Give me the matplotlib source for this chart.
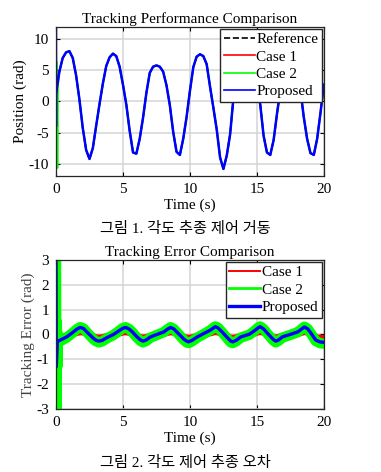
import numpy as np
import matplotlib
matplotlib.use("Agg")
import matplotlib.pyplot as plt
from matplotlib.lines import Line2D

plt.rcParams['font.family'] = ['Liberation Serif', 'Noto Sans CJK KR']
plt.rcParams['axes.unicode_minus'] = False
plt.rcParams['font.size'] = 11

# position curve every 0.25 s
pos_t = np.linspace(0, 20, 81)
pos_ref = [1.2, 4.8, 7.0, 7.9, 8.1, 7.0, 4.2, 0.3, -4.3, -7.8,
           -9.25, -7.5, -3.9, -0.4, 2.9, 5.7, 7.1, 7.7, 7.3, 5.6,
           2.7, -0.5, -4.7, -8.2, -8.4, -6.0, -2.6, 1.4, 4.6, 5.6,
           5.8, 5.6, 4.8, 2.6, -0.6, -4.9, -8.1, -8.6, -6.0, -2.5,
           1.7, 5.5, 7.2, 7.6, 7.3, 6.0, 2.4, -1.0, -4.5, -9.0,
           -10.85, -8.7, -5.3, 0.6, 4.3, 6.7, 7.6, 7.8, 7.2, 5.6,
           3.3, -0.5, -5.5, -8.2, -8.6, -6.2, -2.0, 1.8, 4.3, 5.6,
           6.0, 5.6, 4.3, 1.9, -2.5, -6.0, -8.3, -8.6, -6.0, -1.8,
           2.75]

# start-up transients
pos0_prop_t = [0.0, 0.0]
pos0_prop = [12.0, -4.0]
pos0_case2_t = [0.06, 0.1, 0.14]
pos0_case2 = [6.3, -10.7, 2.5]

# tracking error
err_t = [0.2, 0.8, 1.3, 1.55, 1.8, 2.05, 2.3, 2.8, 3.0, 3.2,
         3.45, 3.8, 4.3, 4.8, 5.0, 5.2, 5.45, 5.7, 6.05, 6.3,
         6.5, 6.75, 7.05, 7.55, 8.05, 8.3, 8.55, 8.8, 9.05, 9.55,
         9.75, 9.9, 10.15, 10.55, 11.05, 11.55, 11.75, 11.9, 12.1, 12.4,
         12.9, 13.05, 13.2, 13.45, 13.8, 14.45, 14.9, 15.1, 15.25, 15.5,
         15.8, 16.2, 16.4, 16.6, 16.9, 17.55, 18.05, 18.3, 18.55, 18.8,
         19.05, 19.4, 19.7, 20.0]
err_prop = [-0.26, -0.1, 0.1, 0.21, 0.28, 0.24, 0.1, -0.16, -0.24, -0.27,
            -0.24, -0.13, 0.0, 0.18, 0.25, 0.28, 0.22, 0.1, -0.1, -0.22,
            -0.27, -0.22, -0.1, 0.0, 0.1, 0.2, 0.28, 0.22, 0.08, -0.19,
            -0.27, -0.3, -0.24, -0.1, 0.04, 0.18, 0.26, 0.31, 0.26, 0.1,
            -0.19, -0.27, -0.3, -0.24, -0.1, 0.01, 0.18, 0.27, 0.31, 0.22,
            0.04, -0.19, -0.27, -0.23, -0.1, 0.01, 0.1, 0.2, 0.3, 0.22,
            0.04, -0.23, -0.3, -0.32]
err_case2 = [-0.31, -0.13, 0.09, 0.21, 0.29, 0.24, 0.09, -0.2, -0.28, -0.32,
             -0.28, -0.16, -0.02, 0.18, 0.26, 0.29, 0.22, 0.09, -0.13, -0.26,
             -0.32, -0.26, -0.13, -0.02, 0.09, 0.2, 0.29, 0.22, 0.07, -0.23,
             -0.32, -0.35, -0.28, -0.13, 0.02, 0.18, 0.27, 0.32, 0.27, 0.09,
             -0.23, -0.32, -0.35, -0.28, -0.13, -0.01, 0.18, 0.28, 0.32, 0.22,
             0.02, -0.23, -0.32, -0.27, -0.13, -0.01, 0.09, 0.2, 0.31, 0.22,
             0.02, -0.27, -0.35, -0.37]
err_case1 = [-0.12, -0.06, 0.02, 0.06, 0.09, 0.08, 0.02, -0.08, -0.12, -0.13,
             -0.12, -0.07, -0.02, 0.05, 0.08, 0.09, 0.07, 0.02, -0.06, -0.11,
             -0.13, -0.11, -0.06, -0.02, 0.02, 0.06, 0.09, 0.07, 0.01, -0.1,
             -0.13, -0.14, -0.12, -0.06, 0.0, 0.05, 0.08, 0.1, 0.08, 0.02,
             -0.1, -0.13, -0.14, -0.12, -0.06, -0.02, 0.05, 0.09, 0.1, 0.07,
             0.0, -0.1, -0.13, -0.11, -0.06, -0.02, 0.02, 0.06, 0.1, 0.07,
             0.0, -0.11, -0.14, -0.15]
err0_prop_t = [0.0, 0.02, 0.1]
err0_prop = [3.0, -1.3, -0.3]
err0_case2_t = [0.0, 0.03, 0.06, 0.1, 0.15]
err0_case2 = [3.0, -3.0, 0.5, -1.3, 0.0]
err0_case1_t = [0.0, 0.05, 0.1]
err0_case1 = [0.6, -0.6, 0.0]

labels_top = ['Reference', 'Case 1', 'Case 2', 'Proposed']
labels_bot = ['Case 1', 'Case 2', 'Proposed']
RED, GREEN, BLUE = '#ff0000', '#00ff00', '#0000ff'


def style_axes(ax):
    ax.set_xlim(0, 20)
    ax.set_xticks([0, 5, 10, 15, 20])
    ax.grid(True, color='#d4d4d4', lw=1.1)
    ax.set_axisbelow(True)
    ax.tick_params(direction='in', length=3, top=True, right=True, labelsize=11, pad=5)
    for s in ax.spines.values():
        s.set_color('#262626')
        s.set_linewidth(0.9)
    ax.set_xlabel('Time (s)', labelpad=2)


def add_legend(ax, handles, labels):
    leg = ax.legend(handles, labels, loc='upper right', fontsize=11, frameon=True,
                    fancybox=False, framealpha=1, edgecolor='#262626',
                    borderaxespad=0.12, borderpad=0.25, labelspacing=0.24,
                    handlelength=2.0, handletextpad=0.1)
    leg.get_frame().set_linewidth(1.0)
    return leg


fig = plt.figure(figsize=(3.81, 4.72), dpi=100)
ax1 = fig.add_axes([0.147, 0.627, 0.703, 0.316])
ax2 = fig.add_axes([0.147, 0.1335, 0.703, 0.316])

# --- position ---
ax1.plot(pos_t, pos_ref, color='k', ls='--', lw=1.2)
ax1.plot(pos_t, pos_ref, color=RED, lw=1.2)
ax1.plot(np.concatenate([pos0_case2_t, pos_t[1:]]),
         np.concatenate([pos0_case2, pos_ref[1:]]), color=GREEN, lw=1.4)
ax1.plot(np.concatenate([pos0_prop_t, pos_t]),
         np.concatenate([pos0_prop, pos_ref]), color=BLUE, lw=1.8,
         solid_joinstyle='round', solid_capstyle='round')
style_axes(ax1)
ax1.set_ylim(-12, 12)
ax1.set_yticks([-10, -5, 0, 5, 10])
ax1.set_ylabel('Position (rad)', labelpad=1)
ax1.set_title('Tracking Performance Comparison', fontsize=11, pad=3)
h1 = [Line2D([], [], color='k', ls='--', lw=1.2),
      Line2D([], [], color=RED, lw=1.2),
      Line2D([], [], color=GREEN, lw=1.2),
      Line2D([], [], color=BLUE, lw=1.2)]
add_legend(ax1, h1, labels_top)

# --- error ---
ax2.plot(np.concatenate([err0_case1_t, err_t]), np.concatenate([err0_case1, err_case1]),
         color=RED, lw=4.5, solid_joinstyle='round')
ax2.plot(np.concatenate([err0_case2_t, err_t]), np.concatenate([err0_case2, err_case2]),
         color=GREEN, lw=7.5, solid_joinstyle='round')
ax2.plot(np.concatenate([err0_prop_t, err_t]), np.concatenate([err0_prop, err_prop]),
         color=BLUE, lw=2.4, solid_joinstyle='round')
style_axes(ax2)
ax2.set_ylim(-3, 3)
ax2.set_yticks([-3, -2, -1, 0, 1, 2, 3])
ax2.set_ylabel('Tracking Error (rad)', labelpad=1, color='#444444')
ax2.set_title('Tracking Error Comparison', fontsize=11, pad=3)
h2 = [Line2D([], [], color=RED, lw=1.4),
      Line2D([], [], color=GREEN, lw=2.0),
      Line2D([], [], color=BLUE, lw=2.4)]
add_legend(ax2, h2, labels_bot)

fig.text(0.486, 1 - 229 / 472, '그림 1. 각도 추종 제어 거동', ha='center', va='center', fontsize=11)
fig.text(0.486, 1 - 463 / 472, '그림 2. 각도 제어 추종 오차', ha='center', va='center', fontsize=11)

fig.savefig('out.png', dpi=100)
